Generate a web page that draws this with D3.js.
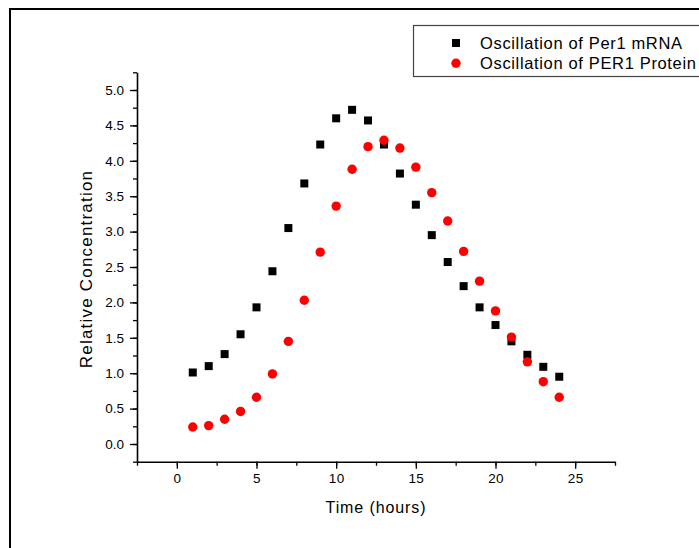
<!DOCTYPE html>
<html>
<head>
<meta charset="utf-8">
<script src="https://cdn.jsdelivr.net/npm/d3@7"></script>
<style>
  html, body { margin: 0; padding: 0; background: #fff; }
  svg { display: block; font-family: "Liberation Sans", Arial, sans-serif; }
</style>
</head>
<body>
<svg id="chart" width="699" height="548"></svg>
<script>
const hours = [1,2,3,4,5,6,7,8,9,10,11,12,13,14,15,16,17,18,19,20,21,22,23,24];
const mrna = [1.01,1.10,1.27,1.55,1.93,2.44,3.05,3.68,4.23,4.60,4.72,4.57,4.23,3.82,3.38,2.95,2.57,2.23,1.93,1.68,1.45,1.26,1.09,0.95];
const protein = [0.24,0.26,0.35,0.46,0.66,0.99,1.45,2.03,2.71,3.36,3.88,4.20,4.29,4.18,3.91,3.55,3.15,2.72,2.30,1.88,1.51,1.16,0.88,0.66];
const xTicks = [0,5,10,15,20,25];
const yTicks = [0,0.5,1,1.5,2,2.5,3,3.5,4,4.5,5];
const seriesNames = ["Oscillation of Per1 mRNA","Oscillation of PER1 Protein"];

const svg = d3.select("#chart");

// outer frame
svg.append("rect").attr("x",10).attr("y",9).attr("width",720).attr("height",560)
  .attr("fill","none").attr("stroke","#000").attr("stroke-width",2);

const x = d3.scaleLinear().domain([-2.5,27.5]).range([137,615]);
const y = d3.scaleLinear().domain([-0.25,5.25]).range([461.7,72.3]);

const xMinor = d3.range(-2.5,27.6,2.5);
const yMinor = d3.range(-0.25,5.26,0.25);

// X axis
const gx = svg.append("g").attr("transform",`translate(0,${y(-0.25)})`);
gx.append("g").call(d3.axisBottom(x).tickValues(xMinor).tickSize(4).tickFormat(""))
  .call(g=>g.select(".domain").remove())
  .selectAll("line").attr("stroke","#000").attr("stroke-width",1.3);
gx.append("g").call(d3.axisBottom(x).tickValues(xTicks).tickSize(7).tickSizeOuter(0).tickPadding(5).tickFormat(d3.format("d")))
  .call(g=>g.select(".domain").attr("stroke","#000").attr("stroke-width",1.6))
  .call(g=>g.selectAll("line").attr("stroke","#000").attr("stroke-width",1.3))
  .call(g=>g.selectAll("text").attr("fill","#000").attr("font-size","13.5px").attr("letter-spacing","0.3px").attr("font-family","Liberation Sans, Arial, sans-serif"));

// Y axis
const gy = svg.append("g").attr("transform",`translate(${x(-2.5)},0)`);
gy.append("g").call(d3.axisLeft(y).tickValues(yMinor).tickSize(4).tickFormat(""))
  .call(g=>g.select(".domain").remove())
  .selectAll("line").attr("stroke","#000").attr("stroke-width",1.3);
gy.append("g").call(d3.axisLeft(y).tickValues(yTicks).tickSize(7).tickSizeOuter(0).tickPadding(6).tickFormat(d3.format(".1f")))
  .call(g=>g.select(".domain").attr("stroke","#000").attr("stroke-width",1.6))
  .call(g=>g.selectAll("line").attr("stroke","#000").attr("stroke-width",1.3))
  .call(g=>g.selectAll("text").attr("fill","#000").attr("font-size","13.5px").attr("font-family","Liberation Sans, Arial, sans-serif"));

// axis titles
svg.append("text").attr("x",376).attr("y",513).attr("text-anchor","middle")
  .attr("font-size","16px").attr("letter-spacing","0.9px").attr("fill","#000").text("Time (hours)");
svg.append("text").attr("transform","translate(92,269) rotate(-90)").attr("text-anchor","middle")
  .attr("font-size","17px").attr("letter-spacing","1.2px").attr("fill","#000").text("Relative Concentration");

// data
svg.append("g").selectAll("rect").data(hours).join("rect")
  .attr("x",(d)=>x(d)-4).attr("y",(d,i)=>y(mrna[i])-4)
  .attr("width",8).attr("height",8).attr("fill","#000");
svg.append("g").selectAll("circle").data(hours).join("circle")
  .attr("cx",(d)=>x(d)).attr("cy",(d,i)=>y(protein[i]))
  .attr("r",4.7).attr("fill","#ff0000");

// legend
const lg = svg.append("g");
lg.append("rect").attr("x",413.5).attr("y",25.5).attr("width",300).attr("height",51)
  .attr("fill","#fff").attr("stroke","#444").attr("stroke-width",1.2);
lg.append("rect").attr("x",452).attr("y",39).attr("width",8).attr("height",8).attr("fill","#000");
lg.append("circle").attr("cx",456).attr("cy",63.3).attr("r",4.7).attr("fill","#ff0000");
lg.selectAll("text").data(seriesNames).join("text")
  .attr("x",480).attr("y",(d,i)=>48.5+i*20.5)
  .attr("font-size","16.5px").attr("letter-spacing","0.65px").attr("fill","#000").text(d=>d);
</script>
</body>
</html>
